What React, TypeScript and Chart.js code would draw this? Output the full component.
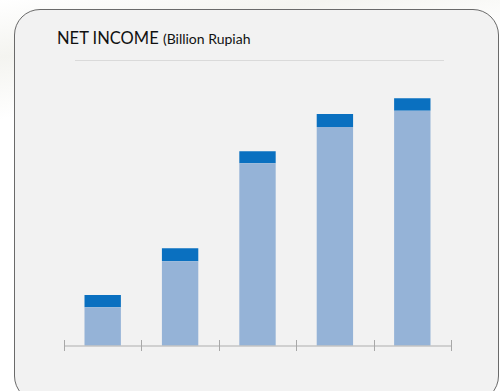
import React, { useEffect, useRef } from "react";
import { Chart, registerables } from "chart.js";

Chart.register(...registerables);

const categories = ["1", "2", "3", "4", "5"];
const baseValues = [387, 847, 1827, 2190, 2353];
const topValues = [123, 130, 120, 130, 124];
const yMax = 2860;

const axisPlugin = {
  id: "axisTicks",
  afterDatasetsDraw(chart: any) {
    const { ctx, chartArea, scales } = chart;
    const x = scales.x;
    const y = chartArea.bottom;
    ctx.save();
    ctx.strokeStyle = "#c4c4c4";
    ctx.lineWidth = 1.5;
    ctx.beginPath();
    ctx.moveTo(chartArea.left, y);
    ctx.lineTo(chartArea.right, y);
    ctx.stroke();
    ctx.strokeStyle = "#a8a8a8";
    ctx.lineWidth = 1;
    for (let i = 0; i <= categories.length; i++) {
      const px = Math.round(x.getPixelForValue(i - 0.5)) + 0.5;
      ctx.beginPath();
      ctx.moveTo(px, y - 6);
      ctx.lineTo(px, y + 5);
      ctx.stroke();
    }
    ctx.restore();
  },
};

export default function App() {
  const ref = useRef<HTMLCanvasElement>(null);
  useEffect(() => {
    if (!ref.current) return;
    const chart = new Chart(ref.current, {
      type: "bar",
      data: {
        labels: categories,
        datasets: [
          {
            data: baseValues,
            backgroundColor: "#95b3d7",
            borderWidth: 0,
          },
          {
            data: topValues,
            backgroundColor: "#0a70c0",
            borderWidth: 0,
          },
        ],
      },
      options: {
        responsive: false,
        animation: false,
        maintainAspectRatio: false,
        layout: { padding: { left: 10, right: 10, top: 0, bottom: 10 } },
        datasets: {
          bar: { categoryPercentage: 1, barPercentage: 0.47 },
        },
        plugins: {
          legend: { display: false },
          tooltip: { enabled: false },
          title: { display: false },
        },
        scales: {
          x: { stacked: true, display: false },
          y: { stacked: true, display: false, min: 0, max: yMax },
        },
      },
      plugins: [axisPlugin],
    });
    return () => chart.destroy();
  }, []);

  return (
    <div
      style={{
        position: "fixed",
        left: 0,
        top: 0,
        width: 500,
        height: 391,
        overflow: "hidden",
        background:
          "linear-gradient(170deg, #ffffff 0%, #f4f4f0 12%, #ffffff 25%, #ffffff 100%)",
      }}
    >
      <div
        style={{
          position: "absolute",
          left: 14,
          top: 9,
          width: 483,
          height: 391,
          border: "1.5px solid #6a6a6a",
          borderRadius: 26,
          background: "#f2f2f2",
        }}
      />
      <div
        style={{
          position: "absolute",
          left: 57,
          top: 28,
          fontFamily: "Lato, 'Open Sans', sans-serif",
          color: "#111",
          whiteSpace: "nowrap",
          lineHeight: "20px",
        }}
      >
        <span style={{ fontSize: 16.5 }}>NET INCOME </span>
        <span style={{ fontSize: 14 }}>(Billion Rupiah</span>
      </div>
      <div
        style={{
          position: "absolute",
          left: 75,
          top: 60,
          width: 369,
          height: 1,
          background: "#dadada",
        }}
      />
      <canvas
        ref={ref}
        width={407}
        height={296}
        style={{ position: "absolute", left: 54, top: 60, width: 407, height: 296 }}
      />
    </div>
  );
}
